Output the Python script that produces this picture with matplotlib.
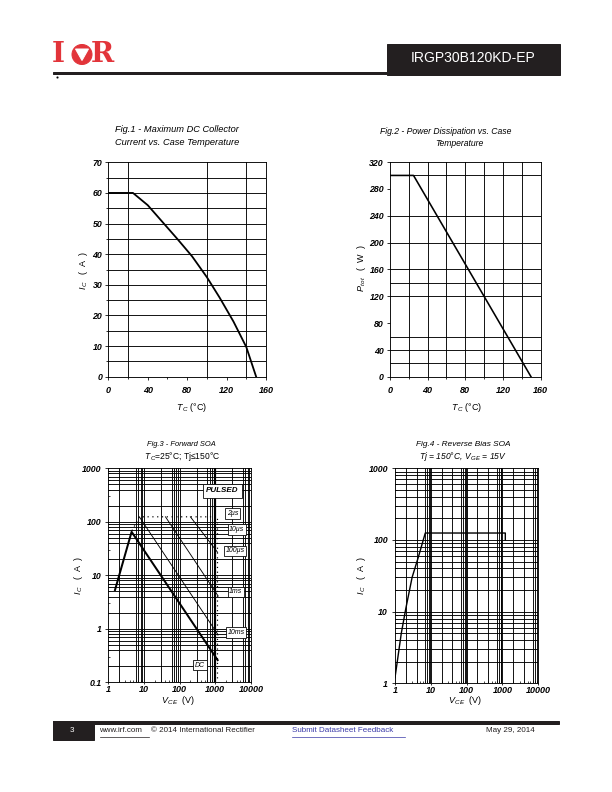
import numpy as np
import matplotlib
matplotlib.use("Agg")
import matplotlib.pyplot as plt
from matplotlib.patches import Rectangle, Circle, Polygon
from matplotlib.ticker import LogLocator, NullFormatter

plt.rcParams['font.family'] = ['Liberation Sans', 'DejaVu Sans']
plt.rcParams['mathtext.fontset'] = 'custom'
plt.rcParams['mathtext.it'] = 'Liberation Sans:italic'
plt.rcParams['mathtext.rm'] = 'Liberation Sans:italic'

# Fig.1 max DC collector current vs case temperature
fig1_tc = [0, 25, 40, 55, 70, 85, 100, 113, 127, 140, 150]
fig1_ic = [60, 60, 56, 50.5, 45, 39.3, 32.5, 25.8, 18, 9.7, 0]

# Fig.2 power dissipation vs case temperature
fig2_tc = [0, 25, 150]
fig2_ptot = [300, 300, 0]

# Fig.3 forward SOA
soa_dc_v = [1.54, 4.5, 1160]
soa_dc_i = [5.3, 65, 0.26]
soa_10ms_v = [7.4, 1200]
soa_10ms_i = [124, 0.77]
soa_1ms_v = [40, 1200]
soa_1ms_i = [124, 4.1]
soa_100us_v = [200, 1150]
soa_100us_i = [124, 27]
soa_pulsed_v = [4.6, 7.4, 1150, 1150]
soa_pulsed_i = [68, 124, 124, 0.1]
soa_labels = ['PULSED', '2µs', '10µs', '100µs', '1ms', '10ms', 'DC']
soa_label_v = [1585, 3080, 4030, 3600, 3780, 3780, 370]
soa_label_i = [377, 144, 72, 28.5, 4.9, 0.85, 0.21]

# Fig.4 reverse bias SOA
rbsoa_v = [1, 1.5, 2, 3, 4.5, 7, 1200, 1200]
rbsoa_i = [1.2, 5, 11, 30, 58, 125, 125, 100]

W, H = 612, 792
fig = plt.figure(figsize=(W / 72, H / 72), dpi=72)

# page overlay in pixel coordinates
page = fig.add_axes([0, 0, 1, 1], zorder=-1)
page.set_xlim(0, W)
page.set_ylim(H, 0)
page.axis('off')


def ax_at(x0, y0, x1, y1):
    return fig.add_axes([x0 / W, 1 - y1 / H, (x1 - x0) / W, (y1 - y0) / H])


def style(ax, xpad=6, ypad=3, xlen=3):
    for s in ax.spines.values():
        s.set_linewidth(0.9)
        s.set_color('black')
    ax.tick_params(which='major', direction='out', width=0.8, length=3)
    ax.tick_params(axis='x', which='major', length=xlen)
    ax.tick_params(axis='x', labelsize=9, pad=xpad)
    ax.tick_params(axis='y', labelsize=8.8, pad=ypad)
    for lab in ax.get_xticklabels() + ax.get_yticklabels():
        lab.set_fontstyle('italic')
        lab.set_fontweight('bold')


def log_minor(ax):
    for axis in (ax.xaxis, ax.yaxis):
        axis.set_minor_locator(LogLocator(base=10, subs=np.arange(2, 10)))
        axis.set_minor_formatter(NullFormatter())
    ax.tick_params(which='minor', direction='in', length=2, width=0.7, top=False, right=False)


gkw = dict(color='black', lw=0.9, zorder=1)
lab_kw = dict(ha='center', va='center', fontsize=9)

# ---------------- Fig.1 ----------------
ax1 = ax_at(108.3, 162.3, 266, 376.7)
ax1.set_xlim(0, 160)
ax1.set_ylim(0, 70)
for v in [20, 100, 140]:
    ax1.axvline(v, **gkw)
for v in np.arange(5, 70, 5):
    ax1.axhline(v, **gkw)
ax1.plot(fig1_tc, fig1_ic, color='black', lw=1.8, zorder=3)
ax1.set_xticks([0, 40, 80, 120, 160])
ax1.set_xticks([20, 60, 100, 140], minor=True)
ax1.set_yticks(np.arange(0, 71, 10))
ax1.set_yticks(np.arange(5, 70, 10), minor=True)
ax1.tick_params(which='minor', direction='out', length=2, width=0.8)
style(ax1)

page.text(176.7, 130, 'Fig.1 - Maximum DC Collector', ha='center', va='center', fontsize=9.2, style='italic')
page.text(176.7, 142.7, 'Current vs. Case Temperature', ha='center', va='center', fontsize=9.2, style='italic')
page.text(191.7, 407.3, r'$T_{\,C}$ (°C)', **lab_kw)
page.text(84, 270, r'$I_{\,C}$   (  A  )', rotation=90, **lab_kw)

# ---------------- Fig.2 ----------------
ax2 = ax_at(390, 162, 540.5, 376.9)
ax2.set_xlim(0, 160)
ax2.set_ylim(0, 320)
for v in [20, 40, 60, 80, 100, 120, 140]:
    ax2.axvline(v, **gkw)
for v in [20, 40, 60, 120, 140, 160, 200, 240, 300]:
    ax2.axhline(v, **gkw)
ax2.plot(fig2_tc, fig2_ptot, color='black', lw=1.6, zorder=3)
ax2.set_xticks([0, 40, 80, 120, 160])
ax2.set_xticks([20, 60, 100, 140], minor=True)
ax2.set_yticks(np.arange(0, 321, 40))
ax2.tick_params(which='minor', direction='out', length=2, width=0.8)
style(ax2)

page.text(446, 131, 'Fig.2 - Power Dissipation vs. Case', ha='center', va='center', fontsize=8.6, style='italic')
page.text(459.3, 143.5, 'Temperature', ha='center', va='center', fontsize=8.6, style='italic')
page.text(466.7, 407.3, r'$T_{\,C}$ (°C)', **lab_kw)
page.text(361.7, 268, r'$P_{\,tot}$   (  W  )', rotation=90, **lab_kw)

# ---------------- Fig.3 ----------------
ax3 = ax_at(108.3, 468.3, 251, 682.3)
ax3.set_xscale('log')
ax3.set_yscale('log')
ax3.set_xlim(1, 10000)
ax3.set_ylim(0.1, 1000)
for d in [1, 10, 100, 1000]:
    first = [2, 6, 7, 8, 9] if d == 1 else [3, 6, 7, 8, 9]
    for m in first:
        ax3.axvline(m * d, **gkw)
    if d > 1:
        ax3.axvline(d, **gkw)
ax3.axvline(1000, color='black', lw=2.2, zorder=1)
for d in [0.1, 1, 10, 100]:
    for m in [2, 4, 5, 6, 7, 8, 9]:
        ax3.axhline(m * d, **gkw)
    if d > 0.1:
        ax3.axhline(d, **gkw)
ax3.plot(soa_dc_v, soa_dc_i, color='black', lw=2.0, zorder=3)
ax3.plot(soa_10ms_v, soa_10ms_i, color='black', lw=0.9, zorder=3)
ax3.plot(soa_1ms_v, soa_1ms_i, color='black', lw=0.9, zorder=3)
ax3.plot(soa_100us_v, soa_100us_i, color='black', lw=0.9, zorder=3)
ax3.plot(soa_pulsed_v, soa_pulsed_i, color='black', lw=1.2, ls=(0, (1, 3)), zorder=3)
for lab, v, i in zip(soa_labels, soa_label_v, soa_label_i):
    big = lab == 'PULSED'
    ax3.text(v, i, lab, ha='center', va='center', fontsize=8 if big else 7, style='italic',
             fontweight='bold' if big else 'normal', zorder=5,
             bbox=dict(boxstyle='square,pad=0.4' if big else 'square,pad=0.25', fc='white', ec='black', lw=0.8))
ax3.set_xticks([1, 10, 100, 1000, 10000])
ax3.set_xticklabels(['1', '10', '100', '1000', '10000'])
ax3.set_yticks([0.1, 1, 10, 100, 1000])
ax3.set_yticklabels(['0.1', '1', '10', '100', '1000'])
log_minor(ax3)
style(ax3, xpad=1, ypad=4, xlen=2)

page.text(181.7, 445, 'Fig.3 - Forward SOA', ha='center', va='center', fontsize=7.5, style='italic')
page.text(181.7, 456.7, r'$T_{\,C}$=25°C; Tj≤150°C', ha='center', va='center', fontsize=8.5)
page.text(178.3, 700.5, r'$V_{\,CE}$  (V)', **lab_kw)
page.text(78.3, 575, r'$I_{\,C}$   (  A  )', rotation=90, **lab_kw)

# ---------------- Fig.4 ----------------
ax4 = ax_at(395, 468.3, 538.3, 683.3)
ax4.set_xscale('log')
ax4.set_yscale('log')
ax4.set_xlim(1, 10000)
ax4.set_ylim(1, 1000)
for d in [1, 10, 100, 1000]:
    for m in [2, 4, 7, 8, 9]:
        ax4.axvline(m * d, **gkw)
    if d > 1:
        ax4.axvline(d, color='black', lw=1.8, zorder=1)
for d in [1, 10, 100]:
    for m in [2, 3, 4, 5, 6, 7, 8, 9]:
        ax4.axhline(m * d, **gkw)
    if d > 1:
        ax4.axhline(d, **gkw)
ax4.plot(rbsoa_v, rbsoa_i, color='black', lw=1.4, zorder=3)
ax4.set_xticks([1, 10, 100, 1000, 10000])
ax4.set_xticklabels(['1', '10', '100', '1000', '10000'])
ax4.set_yticks([1, 10, 100, 1000])
ax4.set_yticklabels(['1', '10', '100', '1000'])
log_minor(ax4)
style(ax4, xpad=1, ypad=4, xlen=2)

page.text(463.3, 445, 'Fig.4 - Reverse Bias SOA', ha='center', va='center', fontsize=8.2, style='italic')
page.text(463.3, 456.7, r'Tj = 150°C, $V_{\,GE}$ = 15V', ha='center', va='center', fontsize=8.5, style='italic')
page.text(465, 700.5, r'$V_{\,CE}$  (V)', **lab_kw)
page.text(361.7, 575, r'$I_{\,C}$   (  A  )', rotation=90, **lab_kw)

# ---------------- header ----------------
red = '#e2343a'
page.text(52, 55, 'I', color=red, fontsize=28, fontweight='bold', family='DejaVu Serif',
          ha='left', va='center')
page.add_patch(Circle((82, 54.5), 10, color=red))
page.add_patch(Polygon([[75.5, 49], [88.5, 49], [82, 60.5]], closed=True, color='white'))
page.text(91, 55, 'R', color=red, fontsize=28, fontweight='bold', family='DejaVu Serif',
          ha='left', va='center')
page.add_patch(Rectangle((53, 71.5), 334, 2.2, color='#231f20'))
page.add_patch(Rectangle((386.5, 43.5), 173.5, 31.5, color='#231f20'))
page.text(473, 58.5, 'IRGP30B120KD-EP', color='white', fontsize=14, ha='center', va='center')
page.plot([56.5], [77], marker='s', ms=1, color='black')

# ---------------- footer ----------------
page.add_patch(Rectangle((53, 721), 506, 2.7, color='#231f20'))
page.add_patch(Rectangle((53, 721), 41, 19.4, color='#231f20'))
page.text(71.5, 731, '3', color='white', fontsize=8, ha='center', va='center')
page.text(99.5, 731, 'www.irf.com', color='#231f20', fontsize=8, ha='left', va='center')
page.plot([99.5, 148.5], [736.5, 736.5], color='#231f20', lw=0.7)
page.text(151, 731, '© 2014 International Rectifier', color='#231f20', fontsize=8, ha='left', va='center')
page.text(292, 731, 'Submit Datasheet Feedback', color='#3a3aa8', fontsize=8, ha='left', va='center')
page.plot([292, 405], [736.5, 736.5], color='#3a3aa8', lw=0.7)
page.text(535, 731, 'May 29, 2014', color='#231f20', fontsize=8, ha='right', va='center')

fig.savefig('out.png', dpi=72)
